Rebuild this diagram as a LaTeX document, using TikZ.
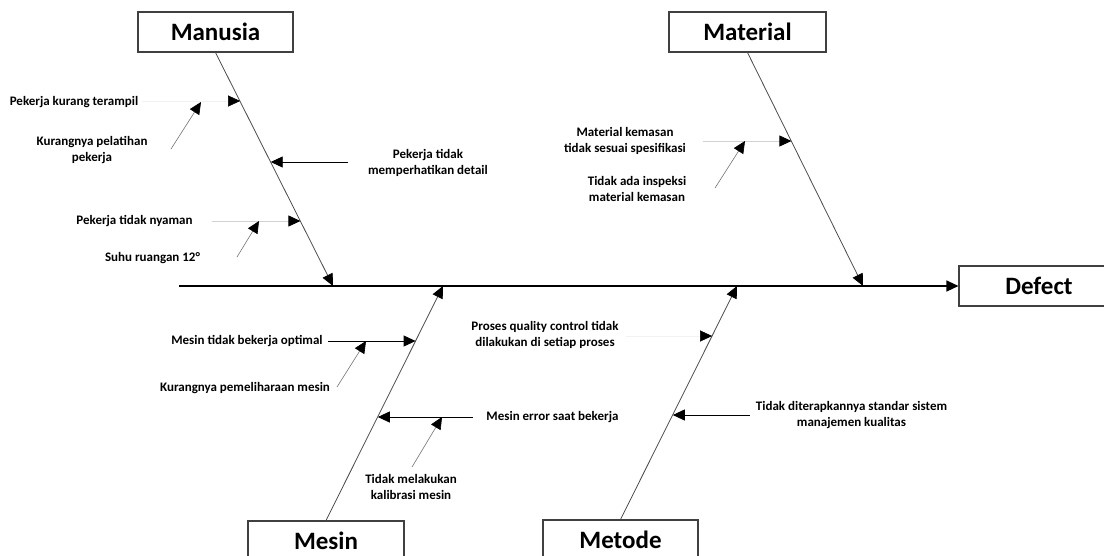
\documentclass[tikz,border=0pt]{standalone}
\usepackage{fontspec}
\setmainfont{Carlito}
\usetikzlibrary{arrows.meta}
\tikzset{
  headbox/.style={draw=black!75, line width=1.1pt, fill=white, minimum height=40, inner sep=0pt,
    font=\fontsize{25}{30}\selectfont\bfseries},
  lbl/.style={inner sep=0pt, align=center, font=\fontsize{13}{16}\selectfont\bfseries},
  tipa/.style={-{Triangle[length=12pt,width=11pt,color=black]}},
  bone/.style={tipa, draw=black!70, line width=0.8pt},
  spine/.style={tipa, draw=black, line width=1.2pt},
  blackarr/.style={tipa, draw=black, line width=0.9pt},
  faintarr/.style={tipa, draw=black!18, line width=0.8pt},
  hiddenarr/.style={tipa, draw=black!5, line width=0.6pt},
  diagarr/.style={tipa, draw=black!55, line width=0.6pt},
}
\begin{document}
\begin{tikzpicture}[x=1pt,y=-1pt]
\useasboundingbox (0,0) rectangle (1104,555);
\clip (0,0) rectangle (1104,555);
\fill[white] (0,0) rectangle (1104,555);

% head boxes
\node[headbox, minimum width=155] (manusia) at (215.5,32) {Manusia};
\node[headbox, minimum width=157] (material) at (747.5,32) {Material};
\node[headbox, minimum width=160] (defect) at (1039,286) {Defect};
\node[headbox, minimum width=156] (mesin) at (326,541) {Mesin};
\node[headbox, minimum width=155] (metode) at (620.5,540) {Metode};

% spine and bone ends
\coordinate (spS) at (179,286);
\coordinate (mE) at (333,286);
\coordinate (matE) at (863,286);
\coordinate (msE) at (443,286);
\coordinate (mtE) at (737,286);

\draw[spine] (spS) -- (defect.west);
\draw[bone] (manusia.south) -- (mE);
\draw[bone] (material.south) -- (matE);
\draw[bone] (mesin.north) -- (msE);
\draw[bone] (metode.north) -- (mtE);

% points on bones
\coordinate (m1) at (240.1,101);
\coordinate (m2) at (270.7,162);
\coordinate (m3) at (300.4,221);
\coordinate (t1) at (791.4,141);
\coordinate (s1) at (415.6,341);
\coordinate (s2) at (377.8,417);
\coordinate (d1) at (712.1,336);
\coordinate (d2) at (672.8,415);

% Manusia causes
\node[lbl] (l1) at (74,102) {Pekerja kurang terampil};
\node[lbl] (l2) at (92,150.5) {Kurangnya pelatihan\\pekerja};
\node[lbl] (l3) at (428,163) {Pekerja tidak\\memperhatikan detail};
\node[lbl] (l4) at (134.5,221) {Pekerja tidak nyaman};
\node[lbl] (l5) at (152.5,258) {Suhu ruangan 12°};

\coordinate (l1s) at (142,101);
\coordinate (l2s) at (171,149);
\coordinate (l2t) at (201,102);
\coordinate (l3s) at (348,162);
\coordinate (l4s) at (212,221);
\coordinate (l5s) at (237,257);
\coordinate (l5t) at (259,221);

\draw[hiddenarr] (l1s) -- (m1);
\draw[diagarr] (l2s) -- (l2t);
\draw[blackarr] (l3s) -- (m2);
\draw[faintarr] (l4s) -- (m3);
\draw[diagarr] (l5s) -- (l5t);

% Material causes
\node[lbl] (l6) at (625,140.5) {Material kemasan\\tidak sesuai spesifikasi};
\node[lbl] (l7) at (637,189) {Tidak ada inspeksi\\material kemasan};
\coordinate (l6s) at (703,141);
\coordinate (l7s) at (715,188);
\coordinate (l7t) at (745,141);
\draw[faintarr] (l6s) -- (t1);
\draw[diagarr] (l7s) -- (l7t);

% Mesin causes
\node[lbl] (l8) at (247,341) {Mesin tidak bekerja optimal};
\node[lbl] (l9) at (245,388) {Kurangnya pemeliharaan mesin};
\node[lbl] (l10) at (552.5,417) {Mesin error saat bekerja};
\node[lbl] (l11) at (411,486.5) {Tidak melakukan\\kalibrasi mesin};
\coordinate (l8s) at (328,341);
\coordinate (l9s) at (337,387);
\coordinate (l9t) at (366,341);
\coordinate (l10s) at (473,417);
\coordinate (l11s) at (412,467);
\coordinate (l11t) at (442,417);
\draw[blackarr] (l8s) -- (s1);
\draw[diagarr] (l9s) -- (l9t);
\draw[blackarr] (l10s) -- (s2);
\draw[diagarr] (l11s) -- (l11t);

% Metode causes
\node[lbl] (l12) at (545,335) {Proses quality control tidak\\dilakukan di setiap proses};
\node[lbl] (l13) at (851.5,415) {Tidak diterapkannya standar sistem\\manajemen kualitas};
\coordinate (l12s) at (626,336);
\coordinate (l13s) at (750,415);
\draw[hiddenarr] (l12s) -- (d1);
\draw[blackarr] (l13s) -- (d2);
\end{tikzpicture}
\end{document}
